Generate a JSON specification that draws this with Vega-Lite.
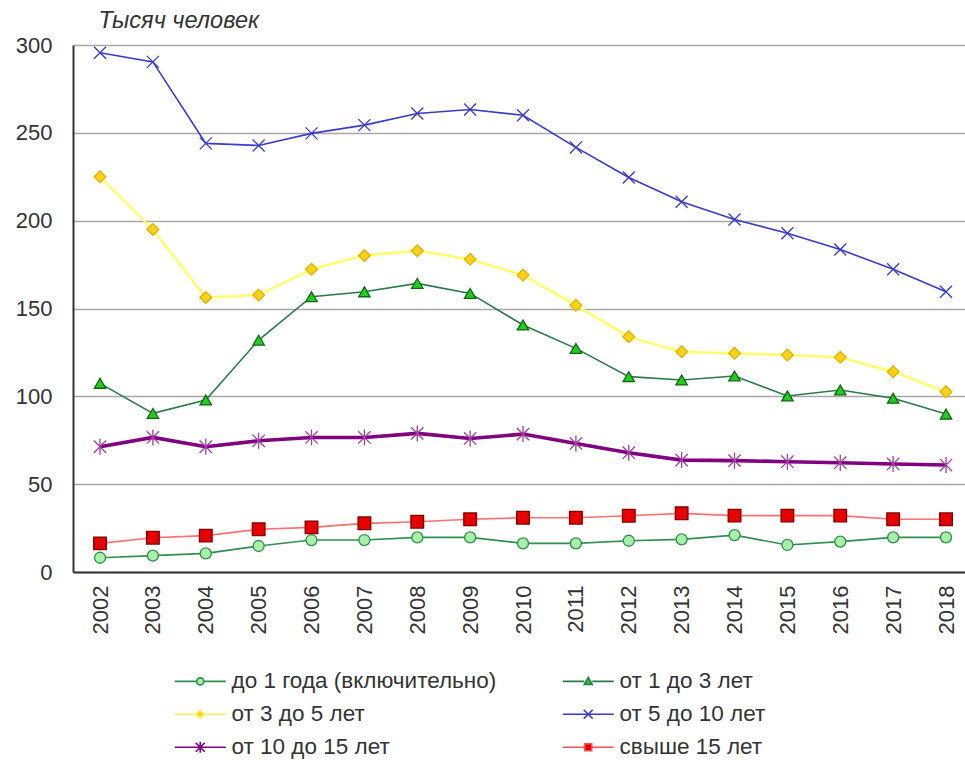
{
  "$schema": "https://vega.github.io/schema/vega-lite/v6.json",
  "width": 892,
  "height": 527,
  "autosize": {"type": "none"},
  "padding": {"left": 73, "top": 45, "right": 0, "bottom": 188},
  "background": "white",
  "config": {
    "font": "Liberation Sans",
    "view": {"stroke": null}
  },
  "data": {
    "values": [
      {"year": 2002, "s": "до 1 года (включительно)", "v": 8.1},
      {"year": 2003, "s": "до 1 года (включительно)", "v": 9.3},
      {"year": 2004, "s": "до 1 года (включительно)", "v": 10.6},
      {"year": 2005, "s": "до 1 года (включительно)", "v": 14.8},
      {"year": 2006, "s": "до 1 года (включительно)", "v": 18.2},
      {"year": 2007, "s": "до 1 года (включительно)", "v": 18.2},
      {"year": 2008, "s": "до 1 года (включительно)", "v": 19.7},
      {"year": 2009, "s": "до 1 года (включительно)", "v": 19.7},
      {"year": 2010, "s": "до 1 года (включительно)", "v": 16.3},
      {"year": 2011, "s": "до 1 года (включительно)", "v": 16.3},
      {"year": 2012, "s": "до 1 года (включительно)", "v": 17.8},
      {"year": 2013, "s": "до 1 года (включительно)", "v": 18.6},
      {"year": 2014, "s": "до 1 года (включительно)", "v": 21.0},
      {"year": 2015, "s": "до 1 года (включительно)", "v": 15.4},
      {"year": 2016, "s": "до 1 года (включительно)", "v": 17.3},
      {"year": 2017, "s": "до 1 года (включительно)", "v": 19.7},
      {"year": 2018, "s": "до 1 года (включительно)", "v": 19.7},
      {"year": 2002, "s": "от 1 до 3 лет", "v": 107.4},
      {"year": 2003, "s": "от 1 до 3 лет", "v": 90.3},
      {"year": 2004, "s": "от 1 до 3 лет", "v": 97.9},
      {"year": 2005, "s": "от 1 до 3 лет", "v": 132.0},
      {"year": 2006, "s": "от 1 до 3 лет", "v": 156.7},
      {"year": 2007, "s": "от 1 до 3 лет", "v": 159.5},
      {"year": 2008, "s": "от 1 до 3 лет", "v": 164.3},
      {"year": 2009, "s": "от 1 до 3 лет", "v": 158.6},
      {"year": 2010, "s": "от 1 до 3 лет", "v": 140.6},
      {"year": 2011, "s": "от 1 до 3 лет", "v": 127.3},
      {"year": 2012, "s": "от 1 до 3 лет", "v": 111.2},
      {"year": 2013, "s": "от 1 до 3 лет", "v": 109.3},
      {"year": 2014, "s": "от 1 до 3 лет", "v": 111.6},
      {"year": 2015, "s": "от 1 до 3 лет", "v": 100.2},
      {"year": 2016, "s": "от 1 до 3 лет", "v": 103.6},
      {"year": 2017, "s": "от 1 до 3 лет", "v": 98.9},
      {"year": 2018, "s": "от 1 до 3 лет", "v": 89.9},
      {"year": 2002, "s": "от 3 до 5 лет", "v": 225.0},
      {"year": 2003, "s": "от 3 до 5 лет", "v": 195.0},
      {"year": 2004, "s": "от 3 до 5 лет", "v": 156.3},
      {"year": 2005, "s": "от 3 до 5 лет", "v": 157.7},
      {"year": 2006, "s": "от 3 до 5 лет", "v": 172.3},
      {"year": 2007, "s": "от 3 до 5 лет", "v": 180.2},
      {"year": 2008, "s": "от 3 до 5 лет", "v": 182.9},
      {"year": 2009, "s": "от 3 до 5 лет", "v": 178.0},
      {"year": 2010, "s": "от 3 до 5 лет", "v": 169.0},
      {"year": 2011, "s": "от 3 до 5 лет", "v": 151.8},
      {"year": 2012, "s": "от 3 до 5 лет", "v": 133.9},
      {"year": 2013, "s": "от 3 до 5 лет", "v": 125.4},
      {"year": 2014, "s": "от 3 до 5 лет", "v": 124.5},
      {"year": 2015, "s": "от 3 до 5 лет", "v": 123.5},
      {"year": 2016, "s": "от 3 до 5 лет", "v": 122.2},
      {"year": 2017, "s": "от 3 до 5 лет", "v": 114.0},
      {"year": 2018, "s": "от 3 до 5 лет", "v": 102.6},
      {"year": 2002, "s": "от 5 до 10 лет", "v": 295.6},
      {"year": 2003, "s": "от 5 до 10 лет", "v": 290.4},
      {"year": 2004, "s": "от 5 до 10 лет", "v": 244.0},
      {"year": 2005, "s": "от 5 до 10 лет", "v": 242.8},
      {"year": 2006, "s": "от 5 до 10 лет", "v": 249.7},
      {"year": 2007, "s": "от 5 до 10 лет", "v": 254.4},
      {"year": 2008, "s": "от 5 до 10 лет", "v": 261.0},
      {"year": 2009, "s": "от 5 до 10 лет", "v": 263.3},
      {"year": 2010, "s": "от 5 до 10 лет", "v": 260.0},
      {"year": 2011, "s": "от 5 до 10 лет", "v": 241.7},
      {"year": 2012, "s": "от 5 до 10 лет", "v": 224.6},
      {"year": 2013, "s": "от 5 до 10 лет", "v": 210.8},
      {"year": 2014, "s": "от 5 до 10 лет", "v": 200.7},
      {"year": 2015, "s": "от 5 до 10 лет", "v": 192.8},
      {"year": 2016, "s": "от 5 до 10 лет", "v": 183.6},
      {"year": 2017, "s": "от 5 до 10 лет", "v": 172.3},
      {"year": 2018, "s": "от 5 до 10 лет", "v": 159.5},
      {"year": 2002, "s": "от 10 до 15 лет", "v": 71.3},
      {"year": 2003, "s": "от 10 до 15 лет", "v": 76.6},
      {"year": 2004, "s": "от 10 до 15 лет", "v": 71.3},
      {"year": 2005, "s": "от 10 до 15 лет", "v": 74.7},
      {"year": 2006, "s": "от 10 до 15 лет", "v": 76.6},
      {"year": 2007, "s": "от 10 до 15 лет", "v": 76.6},
      {"year": 2008, "s": "от 10 до 15 лет", "v": 78.9},
      {"year": 2009, "s": "от 10 до 15 лет", "v": 76.0},
      {"year": 2010, "s": "от 10 до 15 лет", "v": 78.5},
      {"year": 2011, "s": "от 10 до 15 лет", "v": 73.2},
      {"year": 2012, "s": "от 10 до 15 лет", "v": 67.9},
      {"year": 2013, "s": "от 10 до 15 лет", "v": 63.7},
      {"year": 2014, "s": "от 10 до 15 лет", "v": 63.4},
      {"year": 2015, "s": "от 10 до 15 лет", "v": 62.8},
      {"year": 2016, "s": "от 10 до 15 лет", "v": 62.2},
      {"year": 2017, "s": "от 10 до 15 лет", "v": 61.5},
      {"year": 2018, "s": "от 10 до 15 лет", "v": 60.9},
      {"year": 2002, "s": "свыше 15 лет", "v": 16.3},
      {"year": 2003, "s": "свыше 15 лет", "v": 19.5},
      {"year": 2004, "s": "свыше 15 лет", "v": 20.7},
      {"year": 2005, "s": "свыше 15 лет", "v": 24.3},
      {"year": 2006, "s": "свыше 15 лет", "v": 25.4},
      {"year": 2007, "s": "свыше 15 лет", "v": 27.7},
      {"year": 2008, "s": "свыше 15 лет", "v": 28.6},
      {"year": 2009, "s": "свыше 15 лет", "v": 30.0},
      {"year": 2010, "s": "свыше 15 лет", "v": 30.9},
      {"year": 2011, "s": "свыше 15 лет", "v": 30.9},
      {"year": 2012, "s": "свыше 15 лет", "v": 32.0},
      {"year": 2013, "s": "свыше 15 лет", "v": 33.4},
      {"year": 2014, "s": "свыше 15 лет", "v": 32.1},
      {"year": 2015, "s": "свыше 15 лет", "v": 32.1},
      {"year": 2016, "s": "свыше 15 лет", "v": 32.1},
      {"year": 2017, "s": "свыше 15 лет", "v": 30.0},
      {"year": 2018, "s": "свыше 15 лет", "v": 30.0}
    ]
  },
  "encoding": {
    "x": {
      "field": "year",
      "type": "quantitative",
      "scale": {"domain": [2001.489, 2018.359], "nice": false, "zero": false},
      "axis": {
        "title": null,
        "values": [2002, 2003, 2004, 2005, 2006, 2007, 2008, 2009, 2010, 2011, 2012, 2013, 2014, 2015, 2016, 2017, 2018],
        "format": "d",
        "labelAngle": -90,
        "labelAlign": "right",
        "labelBaseline": "middle",
        "labelPadding": 13,
        "labelFontSize": 22,
        "labelColor": "#333333",
        "labelFlush": false,
        "labelOverlap": false,
        "ticks": false,
        "grid": false,
        "domain": true,
        "domainColor": "#333333",
        "domainWidth": 2
      }
    },
    "y": {
      "field": "v",
      "type": "quantitative",
      "scale": {"domain": [0, 300], "nice": false},
      "axis": {
        "title": "Тысяч человек",
        "titleAngle": 0,
        "titleAlign": "left",
        "titleBaseline": "alphabetic",
        "titleX": 25,
        "titleY": -18,
        "titleFontSize": 23.5,
        "titleFontStyle": "italic",
        "titleFontWeight": "normal",
        "titleColor": "#333333",
        "values": [0, 50, 100, 150, 200, 250, 300],
        "labelFontSize": 22,
        "labelColor": "#333333",
        "labelPadding": 21,
        "labelFlush": false,
        "ticks": false,
        "grid": true,
        "gridColor": "#a8a8a8",
        "gridWidth": 1.5,
        "domain": true,
        "domainColor": "#333333",
        "domainWidth": 2
      }
    }
  },
  "resolve": {"scale": {"shape": "independent", "fill": "independent", "stroke": "independent", "strokeWidth": "independent"}},
  "layer": [
    {
      "transform": [{"filter": "datum.s !== 'от 10 до 15 лет' && datum.s !== 'от 3 до 5 лет'"}],
      "mark": {"type": "line", "clip": true, "strokeWidth": 1.6},
      "encoding": {
        "color": {
          "field": "s",
          "type": "nominal",
          "scale": {
            "domain": ["до 1 года (включительно)", "от 1 до 3 лет", "от 3 до 5 лет", "от 5 до 10 лет", "от 10 до 15 лет", "свыше 15 лет"],
            "range": ["#2f8f4f", "#2a7a4a", "#ffff66", "#3a3acc", "#800080", "#ff7070"]
          },
          "legend": null
        }
      }
    },
    {
      "transform": [{"filter": "datum.s === 'от 3 до 5 лет'"}],
      "mark": {"type": "line", "clip": true, "strokeWidth": 2.4},
      "encoding": {
        "color": {"field": "s", "type": "nominal", "legend": null}
      }
    },
    {
      "transform": [{"filter": "datum.s === 'от 10 до 15 лет'"}],
      "mark": {"type": "line", "clip": true, "strokeWidth": 3.6},
      "encoding": {
        "color": {"field": "s", "type": "nominal", "legend": null}
      }
    },
    {
      "mark": {"type": "point", "clip": true, "opacity": 1},
      "encoding": {
        "shape": {
          "field": "s",
          "type": "nominal",
          "scale": {
            "domain": ["до 1 года (включительно)", "от 1 до 3 лет", "от 3 до 5 лет", "от 5 до 10 лет", "от 10 до 15 лет", "свыше 15 лет"],
            "range": ["circle", "triangle-up", "diamond", "M-1,-1L1,1M1,-1L-1,1", "M-1,-1L1,1M1,-1L-1,1M0,-1.3L0,1.3", "square"]
          },
          "legend": null
        },
        "size": {
          "field": "s",
          "type": "nominal",
          "scale": {
            "domain": ["до 1 года (включительно)", "от 1 до 3 лет", "от 3 до 5 лет", "от 5 до 10 лет", "от 10 до 15 лет", "свыше 15 лет"],
            "range": [121, 160, 150, 196, 210, 160]
          },
          "legend": null
        },
        "fill": {
          "field": "s",
          "type": "nominal",
          "scale": {
            "domain": ["до 1 года (включительно)", "от 1 до 3 лет", "от 3 до 5 лет", "от 5 до 10 лет", "от 10 до 15 лет", "свыше 15 лет"],
            "range": ["#a8f0a8", "#22cc22", "#ffd21a", "transparent", "transparent", "#e60000"]
          },
          "legend": null
        },
        "stroke": {
          "field": "s",
          "type": "nominal",
          "scale": {
            "domain": ["до 1 года (включительно)", "от 1 до 3 лет", "от 3 до 5 лет", "от 5 до 10 лет", "от 10 до 15 лет", "свыше 15 лет"],
            "range": ["#2f8f4f", "#116611", "#e0b000", "#3a3acc", "#a040a0", "#800000"]
          },
          "legend": null
        },
        "strokeWidth": {"value": 1.3}
      }
    },
    {
      "transform": [{"filter": "datum.year < 0"}],
      "mark": {"type": "point", "clip": false, "opacity": 1},
      "encoding": {
        "shape": {
          "field": "s",
          "type": "nominal",
          "scale": {
            "domain": ["до 1 года (включительно)", "от 1 до 3 лет", "от 3 до 5 лет", "от 5 до 10 лет", "от 10 до 15 лет", "свыше 15 лет"],
            "range": [
              "M-5.1,0L-0.7,0M0.7,0L5.1,0M-0.7,0A0.7,0.7 0 1,1 0.7,0A0.7,0.7 0 1,1 -0.7,0Z",
              "M-5.1,0L-0.8,0M0.8,0L5.1,0M0,-0.8L0.8,0.6L-0.8,0.6Z",
              "M-5.1,0L-0.8,0M0.8,0L5.1,0M0,-0.8L0.8,0L0,0.8L-0.8,0Z",
              "M-5.1,0L5.1,0M-0.9,-0.9L0.9,0.9M0.9,-0.9L-0.9,0.9",
              "M-5.1,0L5.1,0M-0.9,-0.9L0.9,0.9M0.9,-0.9L-0.9,0.9M0,-1.1L0,1.1",
              "M-5.1,0L-0.7,0M0.7,0L5.1,0M-0.7,-0.7L0.7,-0.7L0.7,0.7L-0.7,0.7Z"
            ]
          },
          "legend": {
            "title": null, "orient": "none", "legendX": 116, "legendY": 625, "direction": "horizontal",
            "columns": 2, "columnPadding": 62, "rowPadding": 10, "padding": 0, "symbolSize": 100,
            "labelOffset": 20, "labelFontSize": 22.5, "labelColor": "#333333", "labelLimit": 400, "symbolStrokeWidth": 1.6
          }
        },
        "fill": {
          "field": "s",
          "type": "nominal",
          "scale": {
            "domain": ["до 1 года (включительно)", "от 1 до 3 лет", "от 3 до 5 лет", "от 5 до 10 лет", "от 10 до 15 лет", "свыше 15 лет"],
            "range": ["#a8f0a8", "#22cc22", "#ffd21a", "transparent", "transparent", "#e60000"]
          },
          "legend": {
            "title": null, "orient": "none", "legendX": 116, "legendY": 625, "direction": "horizontal",
            "columns": 2, "columnPadding": 62, "rowPadding": 10, "padding": 0, "symbolSize": 100,
            "labelOffset": 20, "labelFontSize": 22.5, "labelColor": "#333333", "labelLimit": 400, "symbolStrokeWidth": 1.6
          }
        },
        "stroke": {
          "field": "s",
          "type": "nominal",
          "scale": {
            "domain": ["до 1 года (включительно)", "от 1 до 3 лет", "от 3 до 5 лет", "от 5 до 10 лет", "от 10 до 15 лет", "свыше 15 лет"],
            "range": ["#2f8f4f", "#2a7a4a", "#f2f250", "#3a3acc", "#800080", "#ff5050"]
          },
          "legend": {
            "title": null, "orient": "none", "legendX": 116, "legendY": 625, "direction": "horizontal",
            "columns": 2, "columnPadding": 62, "rowPadding": 10, "padding": 0, "symbolSize": 100,
            "labelOffset": 20, "labelFontSize": 22.5, "labelColor": "#333333", "labelLimit": 400, "symbolStrokeWidth": 1.6
          }
        },
        "strokeWidth": {
          "field": "s",
          "type": "ordinal",
          "scale": {
            "domain": ["до 1 года (включительно)", "от 1 до 3 лет", "от 3 до 5 лет", "от 5 до 10 лет", "от 10 до 15 лет", "свыше 15 лет"],
            "range": [1.6, 1.6, 2, 1.6, 3.6, 1.6]
          },
          "legend": {
            "title": null, "orient": "none", "legendX": 116, "legendY": 625, "direction": "horizontal",
            "columns": 2, "columnPadding": 62, "rowPadding": 10, "padding": 0, "symbolSize": 100,
            "labelOffset": 20, "labelFontSize": 22.5, "labelColor": "#333333", "labelLimit": 400
          }
        }
      }
    }
  ]
}
